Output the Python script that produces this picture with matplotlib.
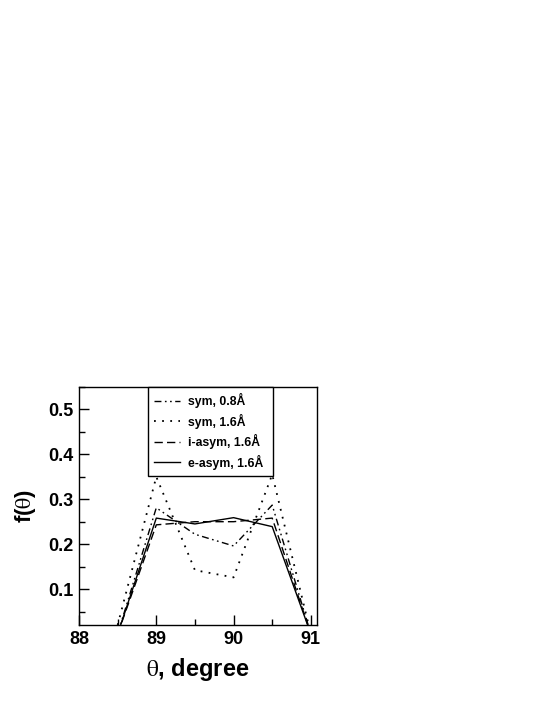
import matplotlib
matplotlib.use("Agg")
import matplotlib.pyplot as plt
from matplotlib.ticker import MultipleLocator

plt.rcParams['font.family'] = ['Liberation Sans', 'DejaVu Sans']
plt.rcParams['mathtext.fontset'] = 'stix'

theta = [88.5, 89.0, 89.5, 90.0, 90.5, 91.0]
sym_08 = [0.0, 0.281, 0.222, 0.196, 0.287, 0.0]
sym_16 = [0.02, 0.35, 0.142, 0.126, 0.355, 0.0]
iasym_16 = [0.0, 0.243, 0.250, 0.250, 0.258, 0.0]
easym_16 = [0.0, 0.258, 0.245, 0.259, 0.239, 0.0]
labels = ["sym, 0.8Å", "sym, 1.6Å", "i-asym, 1.6Å", "e-asym, 1.6Å"]

fig = plt.figure(figsize=(5.45, 7.05), dpi=100)
ax = fig.add_axes([0.145, 0.1135, 0.4367, 0.3376])

lw = 1.0
ax.plot(theta, sym_08, color='black', lw=lw, dashes=(5, 2.5, 1.2, 2.5, 1.2, 2.5), label=labels[0])
ax.plot(theta, sym_16, color='black', lw=1.3, dashes=(1, 3.5), label=labels[1])
ax.plot(theta, iasym_16, color='black', lw=lw, dashes=(6, 3), label=labels[2])
ax.plot(theta, easym_16, color='black', lw=lw, label=labels[3])

ax.set_xlim(88, 91.08)
ax.set_ylim(0.02, 0.55)
ax.xaxis.set_minor_locator(MultipleLocator(0.5))
ax.yaxis.set_minor_locator(MultipleLocator(0.05))
ax.tick_params(which='both', direction='in', top=False, right=False, width=1)
ax.tick_params(which='major', length=7, pad=4)
ax.tick_params(which='minor', length=4)
ax.set_yticks([0.1, 0.2, 0.3, 0.4, 0.5])
ax.set_yticklabels(['0.1', '0.2', '0.3', '0.4', '0.5'], fontweight='bold', fontsize=13)
ax.set_xticks([88, 89, 90, 91])
ax.set_xticklabels(['88', '89', '90', '91'], fontweight='bold', fontsize=13)
for s in ax.spines.values():
    s.set_linewidth(1.0)

ax.set_xlabel(r'$\mathrm{\theta}$, degree', fontsize=17, fontweight='bold', labelpad=6)
ax.set_ylabel(r'f($\mathrm{\theta}$)', fontsize=16, fontweight='bold', labelpad=7)

leg = ax.legend(loc='upper left', bbox_to_anchor=(0.29, 0.0, 0.525, 1.0), mode='expand',
                borderaxespad=0, fancybox=False, edgecolor='black', framealpha=1,
                prop={'weight': 'bold', 'size': 8.8}, handlelength=2.1,
                handletextpad=0.7, labelspacing=0.45, borderpad=0.5)
leg.get_frame().set_linewidth(1.0)

fig.savefig('out.png', dpi=100)
